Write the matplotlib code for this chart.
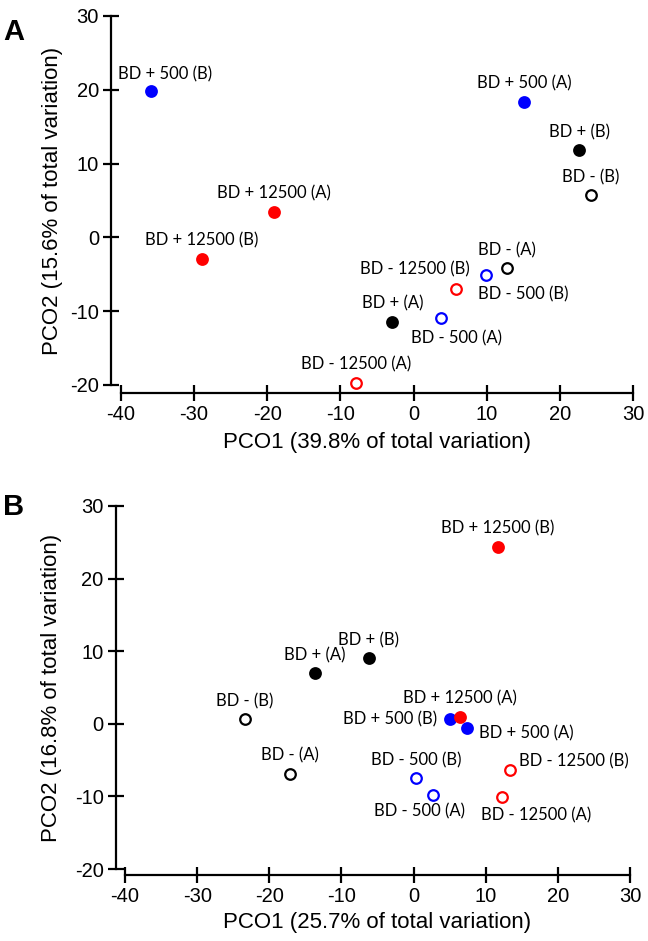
import matplotlib.pyplot as plt

plt.rcParams['font.family'] = ['Liberation Sans', 'DejaVu Sans']
plt.rcParams['axes.unicode_minus'] = False

# Panel A: PCO scores
a_names = ['BD + 500 (B)', 'BD + 500 (A)', 'BD + (B)', 'BD - (B)', 'BD + 12500 (A)',
           'BD + 12500 (B)', 'BD - (A)', 'BD - 500 (B)', 'BD - 12500 (B)', 'BD + (A)',
           'BD - 500 (A)', 'BD - 12500 (A)']
a_x = [-35.9, 15.1, 22.6, 24.2, -19.1, -28.9, 12.7, 9.9, 5.8, -2.9, 3.8, -7.9]
a_y = [19.8, 18.4, 11.8, 5.7, 3.5, -2.9, -4.2, -5.1, -7.0, -11.4, -10.9, -19.7]
a_xlabel = 'PCO1 (39.8% of total variation)'
a_ylabel = 'PCO2 (15.6% of total variation)'

# Panel B: PCO scores
b_names = ['BD + 12500 (B)', 'BD + (B)', 'BD + (A)', 'BD - (B)', 'BD - (A)',
           'BD + 500 (B)', 'BD + 12500 (A)', 'BD + 500 (A)', 'BD - 500 (B)',
           'BD - 500 (A)', 'BD - 12500 (B)', 'BD - 12500 (A)']
b_x = [11.7, -6.2, -13.7, -23.4, -17.1, 5.0, 6.4, 7.4, 0.4, 2.7, 13.3, 12.2]
b_y = [24.4, 9.0, 7.0, 0.6, -6.9, 0.6, 1.0, -0.6, -7.5, -9.8, -6.3, -10.1]
b_xlabel = 'PCO1 (25.7% of total variation)'
b_ylabel = 'PCO2 (16.8% of total variation)'

xticks = [-40, -30, -20, -10, 0, 10, 20, 30]
yticks = [-20, -10, 0, 10, 20, 30]

# label placement (offset in points, horizontal alignment)
a_offsets = {
    'BD + 500 (B)': (10, 12, 'center'),
    'BD - 12500 (B)': (-30, 14, 'center'),
    'BD - 500 (B)': (27, -14, 'center'),
    'BD - 500 (A)': (11, -15, 'center'),
}
b_offsets = {
    'BD + 500 (B)': (-9, 0, 'right'),
    'BD + 500 (A)': (9, -4, 'left'),
    'BD - 500 (A)': (-10, -12, 'center'),
    'BD - 12500 (B)': (7, 6, 'left'),
    'BD - 12500 (A)': (25, -13, 'center'),
}


def style(name):
    if '12500' in name:
        c = '#ff0000'
    elif '500' in name:
        c = '#0000ff'
    else:
        c = 'black'
    filled = '+' in name
    return c, filled


def draw(ax, names, xs, ys, offsets, xlabel, ylabel, left_off, bottom_off,
         ylab_x, xlab_y):
    for n, x, y in zip(names, xs, ys):
        c, filled = style(n)
        ax.scatter(x, y, s=58, marker='o', facecolor=c if filled else 'white',
                   edgecolor=c, linewidth=1.6, zorder=3, clip_on=False)
        dx, dy, ha = offsets.get(n, (0, 13, 'center'))
        ax.annotate(n, (x, y), xytext=(dx, dy), textcoords='offset points',
                    ha=ha, va='center', fontsize=12, family=['Lato', 'DejaVu Sans'])
    ax.set_xlim(-40, 30)
    ax.set_ylim(-20, 30)
    ax.set_xticks(xticks)
    ax.set_yticks(yticks)
    for s in ['top', 'right']:
        ax.spines[s].set_visible(False)
    ax.spines['left'].set_position(('outward', left_off))
    ax.spines['bottom'].set_position(('outward', bottom_off))
    for s in ['left', 'bottom']:
        ax.spines[s].set_linewidth(1.6)
    ax.tick_params(direction='inout', length=11, width=1.6, labelsize=14.5, pad=3)
    ax.set_xlabel(xlabel, fontsize=16)
    ax.set_ylabel(ylabel, fontsize=16)
    ax.xaxis.label.set_va('center')
    ax.yaxis.label.set_va('center')
    ax.xaxis.set_label_coords(0.5, xlab_y)
    ax.yaxis.set_label_coords(ylab_x, 0.5)


fig = plt.figure(figsize=(6.48, 9.41), dpi=100)
ax1 = fig.add_axes([0.1863, 0.5909, 0.7910, 0.3921])
ax2 = fig.add_axes([0.1929, 0.0765, 0.7793, 0.3858])

draw(ax1, a_names, a_x, a_y, a_offsets, a_xlabel, a_ylabel, 7.2, 5.8, -0.134, -0.157)
draw(ax2, b_names, b_x, b_y, b_offsets, b_xlabel, b_ylabel, 6.8, 4.3, -0.145, -0.146)

fig.text(14 / 648, 1 - 32 / 941, 'A', fontsize=21, fontweight='bold', ha='center', va='center')
fig.text(14 / 648, 1 - 507 / 941, 'B', fontsize=21, fontweight='bold', ha='center', va='center')

fig.savefig('out.png', dpi=100)
